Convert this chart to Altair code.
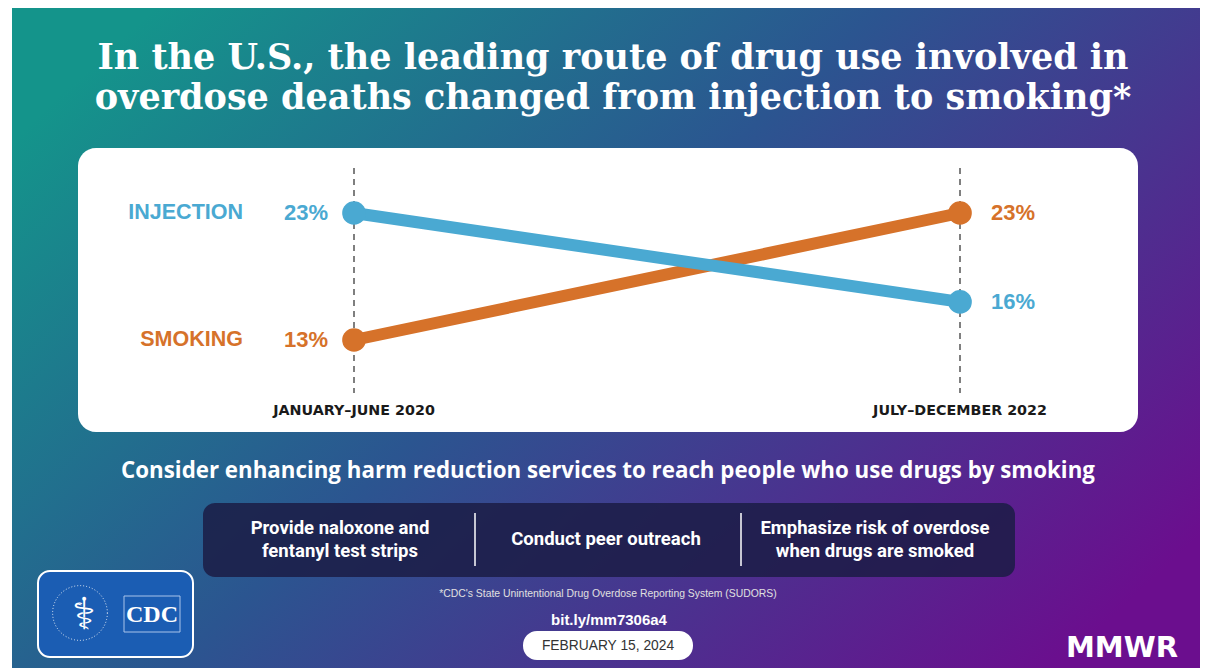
import altair as alt
import pandas as pd

# ---------------- data ----------------
periods = ["JANUARY–JUNE 2020", "JULY–DECEMBER 2022"]
series = ["INJECTION", "SMOKING"]
injection = [23, 16]
smoking = [13, 23]
colors = ["#4aa9d2", "#d6722a"]

title_lines = [
    "In the U.S., the leading route of drug use involved in",
    "overdose deaths changed from injection to smoking*",
]
subtitle = "Consider enhancing harm reduction services to reach people who use drugs by smoking"
actions = [
    ["Provide naloxone and", "fentanyl test strips"],
    ["Conduct peer outreach"],
    ["Emphasize risk of overdose", "when drugs are smoked"],
]
footnote = "*CDC's State Unintentional Drug Overdose Reporting System (SUDORS)"
link = "bit.ly/mm7306a4"
date = "FEBRUARY 15, 2024"

rows = []
for s, vals in zip(series, [injection, smoking]):
    for p, v in zip(periods, vals):
        rows.append({"period": p, "series": s, "value": v, "label": f"{v}%"})
df = pd.DataFrame(rows)
one = pd.DataFrame({"k": [0]})

W, H = 1207, 668

X = alt.X("period:N", sort=periods,
          scale=alt.Scale(type="point", domain=periods, range=[354, 960], padding=0),
          axis=None)
Y = alt.Y("value:Q",
          scale=alt.Scale(domain=[13, 23], range=[340, 213], zero=False, nice=False),
          axis=None)
C = alt.Color("series:N", scale=alt.Scale(domain=series, range=colors), legend=None)

def deco_rect(x, x2, y, y2, **kw):
    return alt.Chart(one).mark_rect(**kw).encode(
        x=alt.value(x), x2=alt.value(x2), y=alt.value(y), y2=alt.value(y2))

def deco_text(txt, x, y, **kw):
    return alt.Chart(one).mark_text(text=txt, **kw).encode(
        x=alt.value(x), y=alt.value(y))

grad = alt.Gradient(
    gradient="linear",
    stops=[alt.GradientStop(offset=0, color="#14948b"),
           alt.GradientStop(offset=0.45, color="#2b5590"),
           alt.GradientStop(offset=1, color="#6b0e8e")],
    x1=0, y1=0.2, x2=1, y2=0.8,
)

layers = []
layers.append(deco_rect(12, 1200, 8, H, color=grad))

# title
for i, t in enumerate(title_lines):
    layers.append(deco_text(t, 613, 58 + i * 40, font="DejaVu Serif", fontWeight="bold",
                            fontSize=35, color="white", align="center", baseline="middle"))

# white panel
layers.append(deco_rect(78, 1138, 148, 432, color="white", cornerRadius=18))

# dashed guides
layers.append(alt.Chart(pd.DataFrame({"period": periods})).mark_rule(
    strokeDash=[6, 5], strokeWidth=1.5, color="#555555").encode(
    x=X, y=alt.value(168), y2=alt.value(393)))

# period labels
layers.append(alt.Chart(pd.DataFrame({"period": periods})).mark_text(
    font="DejaVu Sans", fontWeight="bold", fontSize=14.3, color="#1a1a1a",
    baseline="middle").encode(x=X, y=alt.value(411), text="period:N"))

# lines (smoking under injection)
for s in ["SMOKING", "INJECTION"]:
    layers.append(alt.Chart(df).transform_filter(alt.datum.series == s).mark_line(
        strokeWidth=12, strokeCap="round").encode(x=X, y=Y, color=C))
layers.append(alt.Chart(df).mark_circle(size=560, opacity=1).encode(x=X, y=Y, color=C))

# value labels
layers.append(alt.Chart(df).transform_filter(alt.datum.period == periods[0]).mark_text(
    font="Liberation Sans", fontWeight="bold", fontSize=22, align="right", baseline="middle",
    dx=-26).encode(x=X, y=Y, color=C, text="label:N"))
layers.append(alt.Chart(df).transform_filter(alt.datum.period == periods[1]).mark_text(
    font="Liberation Sans", fontWeight="bold", fontSize=22, align="left", baseline="middle",
    dx=31).encode(x=X, y=Y, color=C, text="label:N"))

# series labels
layers.append(alt.Chart(df).transform_filter(alt.datum.period == periods[0]).mark_text(
    font="Liberation Sans", fontWeight="bold", fontSize=21.5, align="right", baseline="middle").encode(
    x=alt.value(243), y=Y, color=C, text="series:N"))

# subtitle
layers.append(deco_text(subtitle, 608, 471, font="Open Sans", fontWeight="bold",
                        fontSize=22.3, color="white", align="center", baseline="middle"))

# dark action box
layers.append(deco_rect(203, 1015, 503, 577, color="#1b1c45", opacity=0.85, cornerRadius=12))
for xd in [475, 741]:
    layers.append(alt.Chart(one).mark_rule(color="white", strokeWidth=1.5).encode(
        x=alt.value(xd), y=alt.value(513), y2=alt.value(566)))
centers = [340, 606, 875]
for cx, lines in zip(centers, actions):
    n = len(lines)
    for j, ln in enumerate(lines):
        yy = 539 + (j - (n - 1) / 2) * 23
        layers.append(deco_text(ln, cx, yy, font="Roboto", fontWeight="bold", fontSize=18.5,
                                color="white", align="center", baseline="middle"))

# footer
layers.append(deco_text(footnote, 608, 594, font="Liberation Sans", fontSize=10.4,
                        color="#e0e0e0", align="center", baseline="middle"))
layers.append(deco_text(link, 609, 620, font="Liberation Sans", fontWeight="bold", fontSize=15,
                        color="white", align="center", baseline="middle"))
layers.append(deco_rect(523, 693, 631, 660, color="white", cornerRadius=14))
layers.append(deco_text(date, 608, 646, font="Liberation Sans", fontSize=13.8,
                        color="#333333", align="center", baseline="middle"))

# CDC logo
layers.append(deco_rect(38, 193, 571, 657, color="#1b5db3", stroke="white", strokeWidth=2,
                        cornerRadius=12))
layers.append(deco_rect(124, 180, 596, 632, fill="#1b5db3", stroke="#a9c4ea", strokeWidth=1))
layers.append(deco_text("CDC", 152, 615, font="Liberation Serif", fontWeight="bold", fontSize=24,
                        color="white", align="center", baseline="middle"))
layers.append(alt.Chart(one).mark_point(shape="circle", filled=False, size=3000, color="white",
                                        strokeWidth=1, strokeDash=[1, 2], opacity=0.9).encode(
    x=alt.value(80), y=alt.value(613)))
layers.append(deco_text("⚕", 84, 616, font="DejaVu Sans", fontSize=44, color="white",
                        align="center", baseline="middle"))

# MMWR
layers.append(deco_text("MMWR", 1122, 648, font="DejaVu Sans", fontWeight="bold",
                        fontSize=29, color="white", align="center", baseline="middle"))

chart = alt.layer(*layers).properties(
    width=W, height=H, padding=0, background="white",
    autosize=alt.AutoSizeParams(type="fit", contains="padding"),
).configure_view(stroke=None)

chart.save("out.html", embed_options={"renderer": "svg", "actions": False})
